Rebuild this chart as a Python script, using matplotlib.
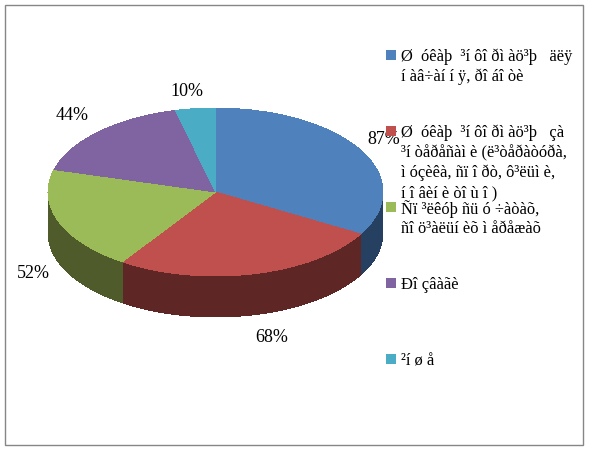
import numpy as np
import matplotlib
matplotlib.use("Agg")
import matplotlib.pyplot as plt
from matplotlib.patches import Rectangle

plt.rcParams['font.family'] = ['Liberation Serif', 'DejaVu Serif']

values = [87, 68, 52, 44, 10]
pct_labels = ['87%', '68%', '52%', '44%', '10%']
legend_lines = [
    ['Ø  óêàþ  ³í ôî ðì àö³þ   äëÿ', 'í àâ÷àí í ÿ, ðî áî òè'],
    ['Ø  óêàþ  ³í ôî ðì àö³þ   çà', '³í òåðåñàì è (ë³òåðàòóðà,', 'ì óçèêà, ñï î ðò, ô³ëüì è,', 'í î âèí è òî ù î )'],
    ['Ñï ³ëêóþ ñü ó ÷àòàõ,', 'ñî ö³àëüí èõ ì åðåæàõ'],
    ['Ðî çâàãè'],
    ['²í ø å'],
]
top_colors = ['#4F81BD', '#C0504D', '#9BBB59', '#8064A2', '#4BACC6']
side_colors = ['#254061', '#5E2725', '#4F5B2A', '#403152', '#215968']

W, H = 589, 450
cx, cy, rx, ry, depth = 215.5, 192, 167.5, 84, 41

fig = plt.figure(figsize=(W / 100, H / 100), dpi=100)
ax = fig.add_axes([0, 0, 1, 1])

def fx(px):
    return px / W

def fy(py):
    return 1 - py / H

# side of the pie first, top face goes over it
d = depth / ry
edges = np.concatenate([[0], np.cumsum(values)]) / sum(values) * 2 * np.pi
for i in range(len(values)):
    a0 = max(edges[i], np.pi / 2)
    a1 = min(edges[i + 1], 3 * np.pi / 2)
    if a1 <= a0:
        continue
    t = np.linspace(a0, a1, 200)
    x = np.sin(t)
    y = np.cos(t)
    ax.fill(np.r_[x, x[::-1]], np.r_[y, y[::-1] - d], color=side_colors[i], lw=0, antialiased=False)

ax.pie(values, colors=top_colors, startangle=90, counterclock=False, radius=1,
       wedgeprops={'linewidth': 0, 'antialiased': False})
ax.set_aspect('auto')
ax.set_xlim(-cx / rx, (W - cx) / rx)
ax.set_ylim(-(H - cy) / ry, cy / ry)
ax.axis('off')

# outer frame
fig.add_artist(Rectangle((fx(5), fy(445)), fx(583) - fx(5), fy(5) - fy(445),
                         transform=fig.transFigure, fill=False, ec='#868686', lw=1))

# data labels
label_pos = [(384, 140), (272, 337), (33, 273), (72, 116), (187, 91)]
for lab, (px, py) in zip(pct_labels, label_pos):
    fig.text(fx(px), fy(py), lab, fontsize=13, ha='center', va='center', color='black')

# legend
square_y = [50, 126, 202, 278, 354]
for lines, sy, col in zip(legend_lines, square_y, top_colors):
    fig.add_artist(Rectangle((fx(386), fy(sy + 10)), 10 / W, 10 / H, transform=fig.transFigure,
                             color=col, lw=0, zorder=5))
    for k, line in enumerate(lines):
        fig.text(fx(401), fy(sy + 7 + 20 * k), line, fontsize=11.9, ha='left', va='center', color='black')

fig.savefig('out.png', dpi=100, facecolor='white')
